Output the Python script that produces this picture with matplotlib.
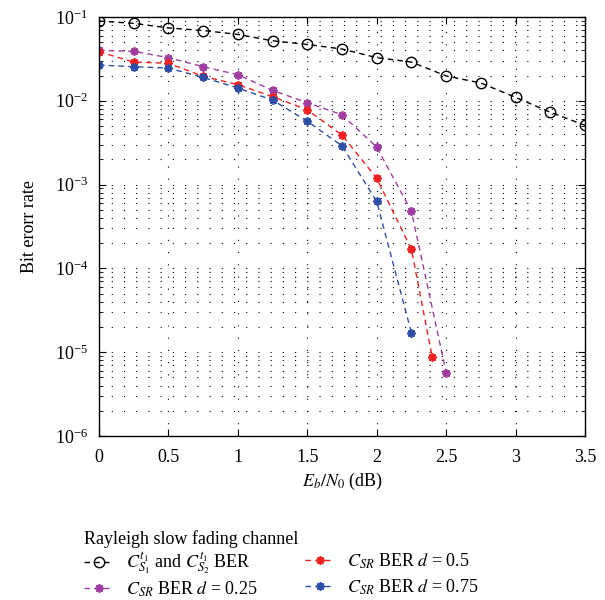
import numpy as np
import matplotlib
matplotlib.use("Agg")
import matplotlib.pyplot as plt
from matplotlib.ticker import LogLocator, FixedLocator, NullFormatter

plt.rcParams['font.family'] = ['Liberation Serif', 'DejaVu Serif']
plt.rcParams['mathtext.fontset'] = 'stix'

# Data
x_black = [0, 0.25, 0.5, 0.75, 1.0, 1.25, 1.5, 1.75, 2.0, 2.25, 2.5, 2.75, 3.0, 3.25, 3.5]
ber_black = [0.0895, 0.084, 0.074, 0.069, 0.062, 0.052, 0.047, 0.0415, 0.0327, 0.029,
             0.0198, 0.0163, 0.011, 0.0073, 0.0051]

x_d025 = [0, 0.25, 0.5, 0.75, 1.0, 1.25, 1.5, 1.75, 2.0, 2.25, 2.5]
ber_d025 = [0.040, 0.039, 0.0327, 0.0255, 0.0205, 0.0133, 0.0095, 0.0068, 0.0028, 4.8e-4, 5.7e-6]

x_d05 = [0, 0.25, 0.5, 0.75, 1.0, 1.25, 1.5, 1.75, 2.0, 2.25, 2.4]
ber_d05 = [0.0385, 0.029, 0.028, 0.0196, 0.0156, 0.0112, 0.0078, 0.0039, 0.00119, 1.69e-4, 8.7e-6]

x_d075 = [0, 0.25, 0.5, 0.75, 1.0, 1.25, 1.5, 1.75, 2.0, 2.25]
ber_d075 = [0.0267, 0.0255, 0.0246, 0.019, 0.0142, 0.0102, 0.0057, 0.0029, 6.3e-4, 1.7e-5]

xticks = [0, 0.5, 1, 1.5, 2, 2.5, 3, 3.5]
xtick_labels = ["0", "0.5", "1", "1.5", "2", "2.5", "3", "3.5"]

labels = [r"$C_{S_1}^{t_1}$ and $C_{S_2}^{t_1}$ BER",
          r"$C_{SR}$ BER $d$ = 0.25",
          r"$C_{SR}$ BER $d$ = 0.5",
          r"$C_{SR}$ BER $d$ = 0.75"]
legend_title = "Rayleigh slow fading channel"

fig = plt.figure(figsize=(6.05, 6.0), dpi=100)
ax = fig.add_axes([99/605, 1-436/600, (585-99)/605, (436-17)/600])

star = (8, 2, 0)
dash = (0, (4, 3))
h1, = ax.plot(x_black, ber_black, color='black', linestyle=dash, lw=1.0,
              marker='o', markersize=7.5, markerfacecolor='none', markeredgewidth=1.0)
h2, = ax.plot(x_d025, ber_d025, color='#a03ca0', linestyle=dash, lw=1.0,
              marker=star, markersize=6, markeredgewidth=1.3)
h3, = ax.plot(x_d05, ber_d05, color='#f02020', linestyle=dash, lw=1.0,
              marker=star, markersize=6, markeredgewidth=1.3)
h4, = ax.plot(x_d075, ber_d075, color='#2d4ea8', linestyle=dash, lw=1.0,
              marker=star, markersize=6, markeredgewidth=1.3)

ax.set_yscale('log')
ax.set_xlim(0, 3.5)
ax.set_ylim(1e-6, 1e-1)
ax.xaxis.set_major_locator(FixedLocator(xticks))
ax.set_xticklabels(xtick_labels)
ax.yaxis.set_major_locator(LogLocator(base=10, numticks=10))
ax.yaxis.set_minor_locator(LogLocator(base=10, subs=np.arange(2, 10), numticks=20))
ax.yaxis.set_minor_formatter(NullFormatter())

ax.grid(True, which='major', axis='both', linestyle=(0, (1, 10)), color='black', lw=0.8)
ax.grid(True, which='minor', axis='y', linestyle=(0, (1, 10)), color='black', lw=0.8)

ax.tick_params(which='both', direction='in', top=True, right=True, labelsize=13)
ax.tick_params(axis='x', which='major', pad=9)
ax.tick_params(axis='y', which='major', pad=8)
ax.tick_params(which='major', length=5)
ax.tick_params(which='minor', length=3)
for s in ax.spines.values():
    s.set_linewidth(1.0)

ax.set_xlabel(r"$E_b/N_0$ (dB)", fontsize=13, labelpad=4)
ax.set_ylabel("Bit erorr rate", fontsize=13, labelpad=12)

common = dict(frameon=False, fontsize=13, handlelength=1.6, handletextpad=0.7,
              borderaxespad=0, loc='upper left')
leg1 = fig.legend([h1, h2], labels[:2], bbox_to_anchor=(77/605, 1-523/600),
                  title=legend_title, title_fontsize=13, labelspacing=0.15, **common)
leg1._legend_box.align = "left"
leg2 = fig.legend([h3, h4], labels[2:], bbox_to_anchor=(298/605, 1-544/600),
                  labelspacing=0.37, **common)

fig.savefig("out.png", dpi=100)
